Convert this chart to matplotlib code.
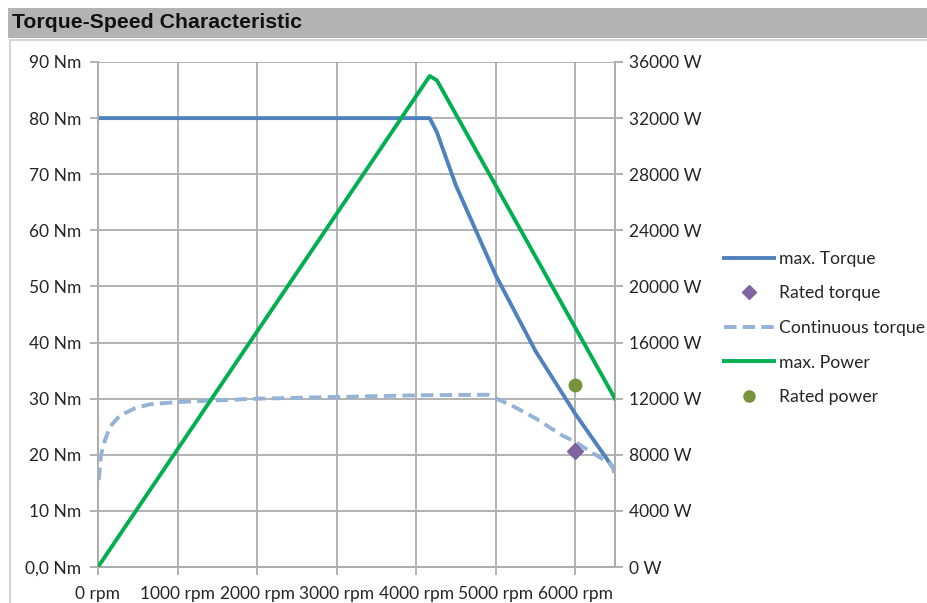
import numpy as np
import matplotlib
matplotlib.use("Agg")
import matplotlib.pyplot as plt
from matplotlib.patches import Rectangle
from matplotlib.lines import Line2D

plt.rcParams['font.family'] = ['Lato', 'DejaVu Sans']

# DATA
speed_tmax = [0, 4170, 4260, 4500, 5000, 5500, 6000, 6500]
torque_max = [80, 80, 77.5, 68, 52, 38.5, 27.3, 17.2]

speed_cont = [10, 38, 88, 150, 276, 465, 653, 1005, 2000, 3000, 4000, 4900,
              5200, 5500, 5830, 6000, 6220, 6430, 6480, 6500]
torque_cont = [15.5, 20, 22.6, 25, 27, 28.3, 29, 29.4, 30.0, 30.3, 30.6, 30.7,
               28.8, 26.5, 23.5, 22.3, 20.3, 18.5, 17.5, 15.5]

speed_pmax = [0, 4170, 4260, 6500]
power_max = [0, 35000, 34700, 12000]

rated_speed = [6000]
rated_torque = [20.7]
rated_power = [13000]

x_ticks = [0, 1000, 2000, 3000, 4000, 5000, 6000]
y_ticks = [0, 10, 20, 30, 40, 50, 60, 70, 80, 90]
y2_ticks = [0, 4000, 8000, 12000, 16000, 20000, 24000, 28000, 32000, 36000]

# FARBEN
c_blue = '#4F81BD'
c_cont = '#95B3D7'
c_green = '#00B050'
c_purple = '#8064A2'
c_olive = '#77933C'
c_grid = '#ADADAD'
c_text = '#262626'

fig = plt.figure(figsize=(9.28, 6.03), dpi=100)

# title bar + frame
fig.patches.append(Rectangle((8/928, 1 - 38/603), 1, 30/603, transform=fig.transFigure,
                             facecolor='#B3B3B3', edgecolor='none'))
fig.patches.append(Rectangle((10/928, -0.01), 1, 1 - 40/603 + 0.01, transform=fig.transFigure,
                             facecolor='none', edgecolor='#D4D4D4', linewidth=1.5))
fig.text(12/928, 1 - 23/603, 'Torque-Speed Characteristic', fontsize=15.3, fontweight='bold',
         family='Liberation Sans', va='center', ha='left', color='#111111')

ax = fig.add_axes([98/928, 36/603, 517/928, 505/603])
ax2 = ax.twinx()

ax.set_xlim(0, 6500)
ax.set_ylim(0, 90)
ax2.set_ylim(0, 36000)

ax.set_xticks(x_ticks)
ax.set_xticks([6500], minor=True)
ax.set_yticks(y_ticks)
ax2.set_yticks(y2_ticks)
ax.set_xticklabels([f'{v} rpm' for v in x_ticks])
ax.set_yticklabels(['0,0 Nm'] + [f'{v} Nm' for v in y_ticks[1:]])
ax2.set_yticklabels([f'{v} W' for v in y2_ticks])

ax.grid(True, which='both', color=c_grid, linewidth=1.3)
ax.set_axisbelow(True)
for a in (ax, ax2):
    for s in a.spines.values():
        s.set_color(c_grid)
        s.set_linewidth(1.3)
    a.spines['top'].set_visible(False)
ax.tick_params(axis='both', which='major', direction='out', length=6, width=1.3, color=c_grid,
               labelsize=12.5, labelcolor=c_text)
ax.tick_params(axis='x', which='minor', length=0)
ax.tick_params(axis='x', pad=8)
ax.tick_params(axis='y', pad=6)
ax2.tick_params(axis='y', direction='out', length=6, width=1.3, color=c_grid,
                labelsize=12.5, labelcolor=c_text, pad=4)

ax.plot(speed_tmax, torque_max, color=c_blue, lw=2.8, solid_capstyle='butt', zorder=3)
ax.plot(speed_cont, torque_cont, color=c_cont, lw=2.8, dashes=(3.2, 1.6), zorder=3)
ax2.plot(speed_pmax, power_max, color=c_green, lw=2.8, zorder=3)
ax.plot(rated_speed, rated_torque, marker='D', color=c_purple, ms=8, ls='none', zorder=4)
ax2.plot(rated_speed, rated_power, marker='o', color=c_olive, ms=9, ls='none', zorder=4)

handles = [
    Line2D([], [], color=c_blue, lw=2.8),
    Line2D([], [], marker='D', color=c_purple, ms=7, ls='none'),
    Line2D([], [], color=c_cont, lw=2.8, dashes=(3.2, 1.6)),
    Line2D([], [], color=c_green, lw=2.8),
    Line2D([], [], marker='o', color=c_olive, ms=8, ls='none'),
]
labels = ['max. Torque', 'Rated torque', 'Continuous torque', 'max. Power', 'Rated power']
fig.legend(handles, labels, loc='center left', bbox_to_anchor=(708/928, 1 - 328/603),
           frameon=False, fontsize=12.7, handlelength=2.85, handletextpad=0.3,
           labelspacing=1.05, labelcolor=c_text)

fig.savefig('out.png', dpi=100)
